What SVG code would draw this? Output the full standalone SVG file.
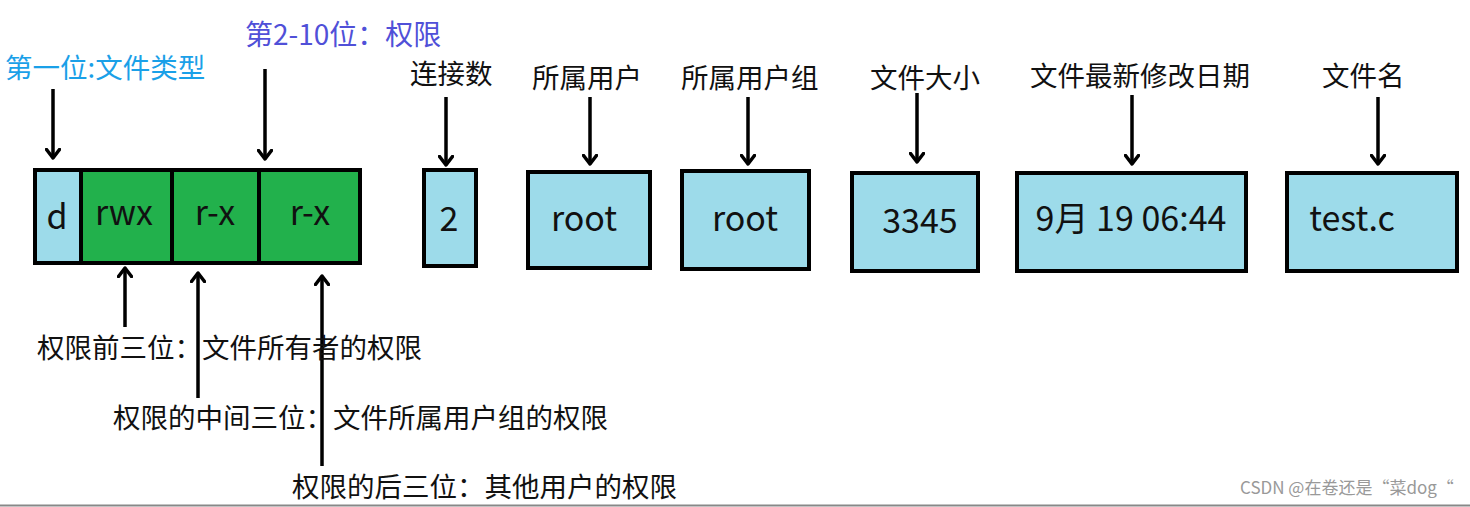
<svg xmlns="http://www.w3.org/2000/svg" width="1470" height="507" viewBox="0 0 1470 507">
<defs>
<marker id="ah" viewBox="0 0 12 16" refX="10" refY="8" markerWidth="12" markerHeight="16" markerUnits="userSpaceOnUse" orient="auto">
<path d="M1.5,1.5 L10,8 L1.5,14.5" fill="none" stroke="#000" stroke-width="3.5" stroke-linecap="round" stroke-linejoin="round"/>
</marker>
<style>
text{font-family:"Noto Sans CJK SC","Noto Sans",sans-serif;}
.lbl{font-size:27.5px;fill:#111;}
.val{font-size:34px;fill:#111;}
.box{fill:#9ddbea;stroke:#000;stroke-width:4;}
.grn{fill:#22b14c;stroke:#000;stroke-width:4;}
.arr{stroke:#000;stroke-width:3.5;fill:none;marker-end:url(#ah);}
</style>
</defs>
<rect width="1470" height="507" fill="#fff"/>
<line x1="0" y1="505.5" x2="1470" y2="505.5" stroke="#888" stroke-width="2"/>
<g id="connectors">
<line class="arr" x1="53" y1="89" x2="53" y2="158"/>
<line class="arr" x1="265" y1="69" x2="265" y2="159"/>
<line class="arr" x1="446" y1="97" x2="446" y2="165"/>
<line class="arr" x1="590" y1="97" x2="590" y2="164"/>
<line class="arr" x1="748" y1="97" x2="748" y2="164"/>
<line class="arr" x1="917" y1="93" x2="917" y2="162"/>
<line class="arr" x1="1132" y1="95" x2="1132" y2="164"/>
<line class="arr" x1="1378" y1="97" x2="1378" y2="164"/>
<line class="arr" x1="125" y1="327" x2="125" y2="268"/>
<line class="arr" x1="198" y1="398" x2="198" y2="273"/>
<line class="arr" x1="322" y1="466" x2="322" y2="276"/>
</g>
<g id="strip">
<rect class="box" x="35" y="170" width="46" height="93"/>
<rect class="grn" x="81" y="170" width="91" height="93"/>
<rect class="grn" x="172" y="170" width="87" height="93"/>
<rect class="grn" x="259" y="170" width="101" height="93"/>
<text class="val" x="57" y="229" text-anchor="middle">d</text>
<text class="val" x="124" y="225" text-anchor="middle">rwx</text>
<text class="val" x="215" y="225" text-anchor="middle">r-x</text>
<text class="val" x="310" y="225" text-anchor="middle">r-x</text>
</g>
<g id="label-type"><text x="5" y="78" font-size="27.5" fill="#1aa0e8">第一位:文件类型</text></g>
<g id="label-perm"><text x="245" y="45" font-size="28" fill="#5050d8">第2-10位：权限</text></g>
<g id="links">
<text class="lbl" x="410" y="84">连接数</text>
<rect class="box" x="424" y="170" width="52" height="96"/>
<text class="val" x="449" y="231" text-anchor="middle">2</text>
</g>
<g id="owner">
<text class="lbl" x="532" y="88">所属用户</text>
<rect class="box" x="528" y="172" width="122" height="96"/>
<text class="val" x="584" y="231" text-anchor="middle">root</text>
</g>
<g id="group">
<text class="lbl" x="681" y="88">所属用户组</text>
<rect class="box" x="682" y="171" width="127" height="98"/>
<text class="val" x="745" y="231" text-anchor="middle">root</text>
</g>
<g id="size">
<text class="lbl" x="870" y="88">文件大小</text>
<rect class="box" x="852" y="173" width="126" height="98"/>
<text class="val" x="920" y="233" text-anchor="middle">3345</text>
</g>
<g id="date">
<text class="lbl" x="1030" y="86">文件最新修改日期</text>
<rect class="box" x="1017" y="173" width="229" height="98"/>
<text class="val" x="1131" y="231" text-anchor="middle">9月 19 06:44</text>
</g>
<g id="name">
<text class="lbl" x="1322" y="86">文件名</text>
<rect class="box" x="1287" y="173" width="170" height="98"/>
<text class="val" x="1352" y="231" text-anchor="middle">test.c</text>
</g>
<g id="owner-perm"><text class="lbl" x="37" y="358">权限前三位：文件所有者的权限</text></g>
<g id="group-perm"><text class="lbl" x="113" y="428">权限的中间三位：文件所属用户组的权限</text></g>
<g id="other-perm"><text class="lbl" x="292" y="497">权限的后三位：其他用户的权限</text></g>
<g id="watermark"><text x="1240" y="494" font-size="17" fill="#999">CSDN @在卷还是“菜dog“</text></g>
</svg>
